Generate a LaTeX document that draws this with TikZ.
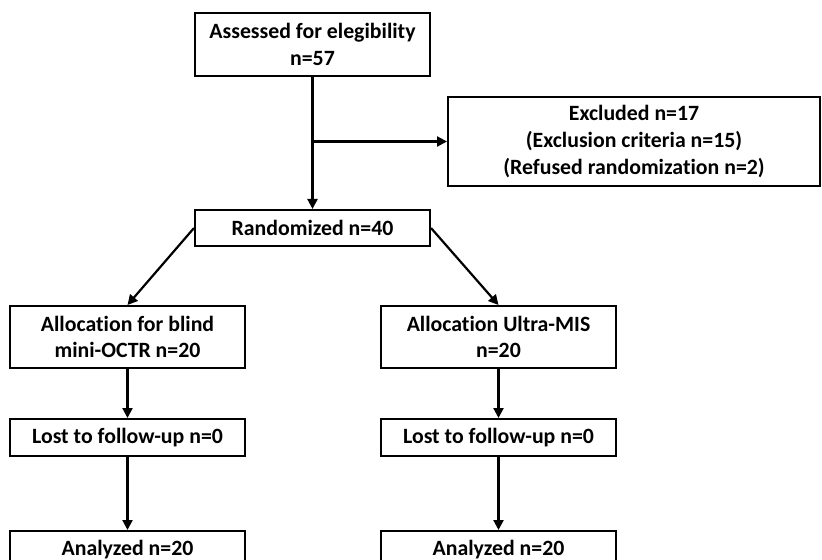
\documentclass[tikz,border=0pt]{standalone}
\usepackage{fontspec}
\setmainfont{Carlito}[Ligatures=NoCommon]
\usetikzlibrary{arrows.meta, positioning}

\begin{document}
\begin{tikzpicture}[
x=0.5pt, y=-0.5pt,
node distance=24.5pt,
box/.style={draw,
rectangle,
line width=1pt,
minimum width=117.5pt,
inner sep=0pt,
align=center,
font=\bfseries\fontsize{10.9}{13.3}\selectfont},
arrow/.style={-{Triangle[length=5pt,width=5pt]}, line width=1.1pt}
]

\clip (0,0) rectangle (822,560);

\node[box, minimum height=31.5pt] (assess) at (312.5,44.5) {Assessed for elegibility\\n=57};
\node[box, minimum width=186pt, minimum height=44.5pt] (excl) at (634,141.5) {Excluded n=17\\(Exclusion criteria n=15)\\(Refused randomization n=2)};
\node[box, minimum height=18pt, below=66pt of assess] (rand) {Randomized n=40};

\node[box, minimum height=31pt] (allocL) at (127.5,337) {Allocation for blind\\mini-OCTR n=20};
\node[box, minimum height=31pt] (allocR) at (498.5,337) {Allocation Ultra-MIS\\n=20};

\node[box, minimum height=18.5pt, below=of allocL] (lostL) {Lost to follow-up n=0};
\node[box, minimum height=18.5pt, below=of allocR] (lostR) {Lost to follow-up n=0};

\node[box, minimum height=18.5pt, below=36.5pt of lostL] (anaL) {Analyzed n=20};
\node[box, minimum height=18.5pt, below=36.5pt of lostR] (anaR) {Analyzed n=20};

\coordinate (split) at (assess.south |- excl.west);

\draw[arrow] (assess) -- (rand);
\draw[arrow] (split) -- (excl.west);
\draw[arrow] (rand.west) -- (allocL.north);
\draw[arrow] (rand.east) -- (allocR.north);
\draw[arrow] (allocL) -- (lostL);
\draw[arrow] (allocR) -- (lostR);
\draw[arrow] (lostL) -- (anaL);
\draw[arrow] (lostR) -- (anaR);

\end{tikzpicture}
\end{document}
